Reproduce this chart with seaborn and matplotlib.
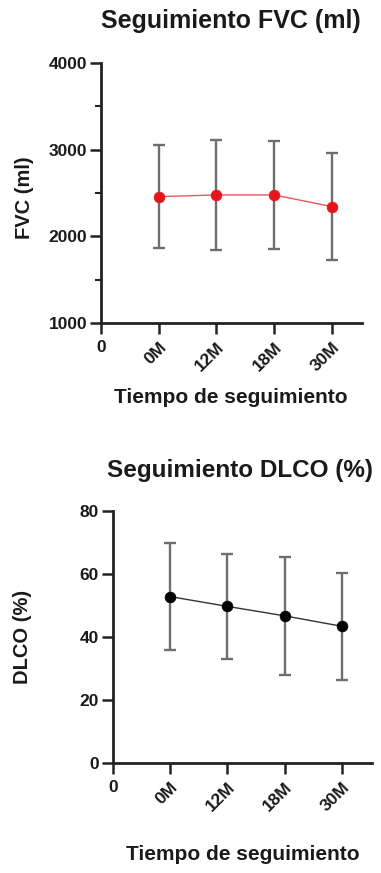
import matplotlib
matplotlib.use("Agg")
import matplotlib.pyplot as plt
import seaborn as sns
from matplotlib.ticker import MultipleLocator

# data
timepoints = ["0M", "12M", "18M", "30M"]
fvc_mean = [2457, 2477, 2477, 2342]
fvc_sd = [590, 635, 624, 619]
dlco_mean = [52.8, 49.7, 46.7, 43.4]
dlco_sd = [17.0, 16.6, 18.6, 16.9]

sns.set_style("ticks")
plt.rcParams["font.family"] = ["Liberation Sans", "DejaVu Sans"]
plt.rcParams["font.weight"] = "bold"

fig = plt.figure(figsize=(3.81, 8.73), dpi=100)
ax1 = fig.add_axes([0.265, 0.630, 0.685, 0.298])
ax2 = fig.add_axes([0.2966, 0.1256, 0.679, 0.2894])

pos = list(range(1, len(timepoints) + 1))
TICK_FS = 12.5


def style_labels(ax):
    for i, lab in enumerate(ax.get_xticklabels()):
        lab.set_fontweight("bold")
        lab.set_fontsize(TICK_FS)
        lab.set_color("#1a1a1a")
        if i > 0:
            lab.set_rotation(45)
            lab.set_ha("right")
            lab.set_va("top")
            lab.set_rotation_mode("anchor")
    for lab in ax.get_yticklabels():
        lab.set_fontweight("bold")
        lab.set_fontsize(TICK_FS)
        lab.set_color("#1a1a1a")


def draw_panel(ax, mean, sd, col, linecol):
    ax.errorbar(pos, mean, yerr=sd, fmt="none", ecolor="#6e6e6e",
                elinewidth=1.7, capsize=4.5, capthick=1.7, zorder=2)
    sns.lineplot(x=pos, y=mean, ax=ax, color=linecol, linewidth=1,
                 zorder=3)
    sns.scatterplot(x=pos, y=mean, ax=ax, color=col, s=60,
                    edgecolor=col, linewidth=0.5, zorder=4)
    ax.set_xlim(0, 4.52)
    ax.set_xticks([0] + pos)
    ax.set_xticklabels(["0"] + timepoints)
    sns.despine(ax=ax)
    for s in ("left", "bottom"):
        ax.spines[s].set_linewidth(2)
        ax.spines[s].set_color("#222222")
    ax.tick_params(axis="both", which="major", length=8, width=1.8,
                   color="#222222")
    ax.tick_params(axis="y", which="major", pad=2)
    ax.tick_params(axis="x", which="major", pad=4)
    ax.tick_params(axis="y", which="minor", length=4.5, width=1.5,
                   color="#222222")
    ax.set_xlabel("")
    ax.set_ylabel("")


draw_panel(ax1, fvc_mean, fvc_sd, "#e8141b", "#e05a5a")
ax1.set_ylim(1000, 4000)
ax1.yaxis.set_major_locator(MultipleLocator(1000))
ax1.yaxis.set_minor_locator(MultipleLocator(500))
style_labels(ax1)

draw_panel(ax2, dlco_mean, dlco_sd, "#000000", "#333333")
ax2.set_ylim(0, 80)
ax2.yaxis.set_major_locator(MultipleLocator(20))
style_labels(ax2)

TXT = "#1a1a1a"
fig.text(231 / 381, 1 - 21 / 873, "Seguimiento FVC (ml)", ha="center",
         va="center", fontsize=18, fontweight="bold", color=TXT)
fig.text(24 / 381, 1 - 198 / 873, "FVC (ml)", ha="center", va="center",
         rotation=90, fontsize=14.5, fontweight="bold", color=TXT)
fig.text(231 / 381, 1 - 398 / 873, "Tiempo de seguimiento", ha="center",
         va="center", fontsize=15, fontweight="bold", color=TXT)

fig.text(240 / 381, 1 - 471 / 873, "Seguimiento DLCO (%)", ha="center",
         va="center", fontsize=17.5, fontweight="bold", color=TXT)
fig.text(23 / 381, 1 - 637 / 873, "DLCO (%)", ha="center", va="center",
         rotation=90, fontsize=14.5, fontweight="bold", color=TXT)
fig.text(243 / 381, 1 - 855 / 873, "Tiempo de seguimiento", ha="center",
         va="center", fontsize=15, fontweight="bold", color=TXT)

fig.savefig("out.png", dpi=100)
